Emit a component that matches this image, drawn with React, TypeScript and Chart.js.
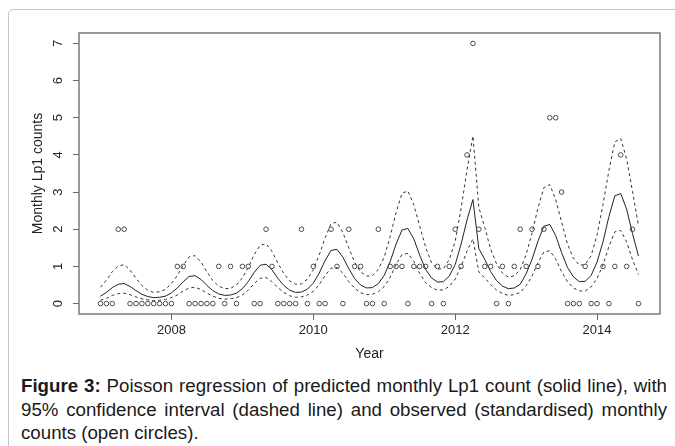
import React, { useEffect, useRef } from "react";
import { Chart, registerables } from "chart.js";

Chart.register(...registerables);

// Monthly series, Jan 2007 .. Aug 2014
const startYear = 2007;

const observed = [
  0, 0, 0, 2, 2, 0, 0, 0, 0, 0, 0, 0,
  0, 1, 1, 0, 0, 0, 0, 0, 1, 0, 1, 0,
  1, 1, 0, 0, 2, 1, 0, 0, 0, 0, 2, 0,
  1, 0, 0, 2, 1, 0, 2, 1, 1, 0, 0, 2,
  0, 1, 1, 1, 0, 1, 1, 1, 0, 1, 0, 1,
  2, 1, 4, 7, 2, 1, 1, 0, 1, 0, 1, 2,
  1, 2, 1, 2, 5, 5, 3, 0, 0, 0, 1, 0,
  0, 1, 0, 1, 4, 1, 2, 0,
];

const fitted = [
  0.20, 0.30, 0.43, 0.52, 0.54, 0.46, 0.35, 0.25, 0.19, 0.16, 0.17, 0.20,
  0.29, 0.42, 0.59, 0.73, 0.75, 0.65, 0.49, 0.35, 0.26, 0.22, 0.23, 0.28,
  0.40, 0.59, 0.84, 1.03, 1.06, 0.91, 0.68, 0.49, 0.36, 0.30, 0.31, 0.39,
  0.55, 0.82, 1.16, 1.43, 1.46, 1.25, 0.94, 0.67, 0.50, 0.42, 0.43, 0.54,
  0.76, 1.13, 1.60, 1.98, 2.02, 1.74, 1.30, 0.92, 0.69, 0.58, 0.59, 0.74,
  1.05, 1.60, 2.25, 2.80, 1.48, 1.19, 0.86, 0.62, 0.47, 0.40, 0.42, 0.52,
  0.80, 1.19, 1.68, 2.08, 2.13, 1.83, 1.37, 0.97, 0.72, 0.59, 0.60, 0.76,
  1.12, 1.66, 2.34, 2.90, 2.96, 2.54, 1.88, 1.28,
];

const upper95 = [
  0.44, 0.63, 0.86, 1.01, 1.05, 0.90, 0.68, 0.49, 0.36, 0.30, 0.32, 0.38,
  0.54, 0.76, 1.03, 1.26, 1.29, 1.12, 0.86, 0.62, 0.47, 0.40, 0.41, 0.50,
  0.69, 0.97, 1.32, 1.57, 1.61, 1.41, 1.09, 0.81, 0.61, 0.52, 0.53, 0.66,
  0.91, 1.31, 1.77, 2.15, 2.19, 1.91, 1.50, 1.11, 0.85, 0.74, 0.75, 0.92,
  1.25, 1.81, 2.45, 2.97, 3.03, 2.66, 2.08, 1.52, 1.10, 0.93, 0.94, 1.18,
  1.68, 2.56, 3.60, 4.51, 2.59, 2.05, 1.46, 1.07, 0.82, 0.71, 0.75, 0.91,
  1.32, 1.90, 2.57, 3.12, 3.20, 2.80, 2.19, 1.60, 1.22, 1.03, 1.05, 1.29,
  1.85, 2.66, 3.58, 4.35, 4.44, 3.89, 3.01, 2.10,
];

const lower95 = [
  0.09, 0.14, 0.22, 0.27, 0.28, 0.24, 0.18, 0.13, 0.10, 0.08, 0.09, 0.11,
  0.16, 0.23, 0.34, 0.42, 0.44, 0.38, 0.28, 0.20, 0.14, 0.12, 0.13, 0.16,
  0.23, 0.36, 0.54, 0.68, 0.70, 0.59, 0.43, 0.30, 0.21, 0.17, 0.18, 0.23,
  0.33, 0.51, 0.76, 0.95, 0.97, 0.82, 0.59, 0.41, 0.29, 0.24, 0.25, 0.32,
  0.46, 0.71, 1.05, 1.32, 1.35, 1.14, 0.81, 0.56, 0.43, 0.36, 0.37, 0.46,
  0.66, 1.00, 1.41, 1.74, 0.85, 0.69, 0.51, 0.36, 0.27, 0.22, 0.24, 0.30,
  0.48, 0.74, 1.10, 1.39, 1.42, 1.20, 0.86, 0.59, 0.42, 0.34, 0.34, 0.45,
  0.68, 1.04, 1.53, 1.93, 1.97, 1.66, 1.18, 0.78,
];

const xTickValues = [2008, 2010, 2012, 2014];
const yTickValues = [0, 1, 2, 3, 4, 5, 6, 7];

const FONT = "'Liberation Sans', Arial, Helvetica, sans-serif";

const toPoints = (arr: number[]) =>
  arr.map((v, i) => ({ x: startYear + i / 12, y: v }));

const boxPlugin = {
  id: "rbox",
  beforeDatasetsDraw(chart: any) {
    const { ctx, chartArea } = chart;
    ctx.save();
    ctx.strokeStyle = "#7a7a7a";
    ctx.lineWidth = 1.5;
    ctx.strokeRect(
      chartArea.left,
      chartArea.top,
      chartArea.right - chartArea.left,
      chartArea.bottom - chartArea.top
    );
    ctx.restore();
  },
};

export default function App() {
  const ref = useRef<HTMLCanvasElement | null>(null);

  useEffect(() => {
    if (!ref.current) return;
    const lineBase = {
      pointRadius: 0,
      pointHoverRadius: 0,
      tension: 0,
      fill: false,
      borderWidth: 1,
    };
    const chart = new Chart(ref.current, {
      type: "line",
      data: {
        datasets: [
          {
            label: "Observed",
            data: toPoints(observed),
            showLine: false,
            pointRadius: 2.3,
            pointHoverRadius: 2.3,
            pointStyle: "circle",
            pointBorderColor: "#4a4a4a",
            pointBackgroundColor: "rgba(0,0,0,0)",
            pointBorderWidth: 1,
            borderColor: "#4a4a4a",
            backgroundColor: "rgba(0,0,0,0)",
          },
          {
            label: "Fitted",
            data: toPoints(fitted),
            borderColor: "#222",
            ...lineBase,
          },
          {
            label: "Upper 95%",
            data: toPoints(upper95),
            borderColor: "#333",
            borderDash: [3, 3],
            ...lineBase,
          },
          {
            label: "Lower 95%",
            data: toPoints(lower95),
            borderColor: "#333",
            borderDash: [3, 3],
            ...lineBase,
          },
        ],
      },
      options: {
        animation: false,
        responsive: false,
        maintainAspectRatio: false,
        events: [],
        layout: { padding: { top: 33, right: 15, left: 0, bottom: 0 } },
        plugins: {
          legend: { display: false },
          tooltip: { enabled: false },
        },
        scales: {
          x: {
            type: "linear",
            min: 2006.697,
            max: 2014.887,
            afterBuildTicks: (s: any) => {
              s.ticks = xTickValues.map((v) => ({ value: v }));
            },
            afterFit: (s: any) => {
              s.height = 58;
            },
            grid: {
              display: true,
              drawOnChartArea: false,
              drawTicks: true,
              tickLength: 6,
              color: "#666",
              lineWidth: 1,
            },
            border: { display: false },
            ticks: {
              autoSkip: false,
              maxRotation: 0,
              minRotation: 0,
              padding: 3,
              color: "#222",
              font: { family: FONT, size: 13 },
              callback: (v: any) => String(v),
            },
            title: {
              display: true,
              text: "Year",
              color: "#222",
              font: { family: FONT, size: 14, lineHeight: 1 },
              padding: { top: 0, bottom: 11 },
            },
          },
          y: {
            type: "linear",
            min: -0.28,
            max: 7.28,
            afterBuildTicks: (s: any) => {
              s.ticks = yTickValues.map((v) => ({ value: v }));
            },
            afterFit: (s: any) => {
              s.width = 79;
            },
            grid: {
              display: true,
              drawOnChartArea: false,
              drawTicks: true,
              tickLength: 6,
              color: "#666",
              lineWidth: 1,
            },
            border: { display: false },
            ticks: {
              autoSkip: false,
              minRotation: 90,
              maxRotation: 90,
              crossAlign: "center",
              padding: 11,
              color: "#222",
              font: { family: FONT, size: 13 },
              callback: (v: any) => String(v),
            },
            title: {
              display: true,
              text: "Monthly Lp1 counts",
              color: "#222",
              font: { family: FONT, size: 14, lineHeight: 1 },
              padding: { top: 31, bottom: 0 },
            },
          },
        },
      } as any,
      plugins: [boxPlugin],
    });
    return () => chart.destroy();
  }, []);

  return (
    <div
      style={{
        position: "fixed",
        left: 0,
        top: 0,
        width: 675,
        height: 446,
        overflow: "hidden",
        background: "#fff",
      }}
    >
      <div
        style={{
          position: "absolute",
          left: 8,
          top: 9,
          width: 700,
          height: 460,
          border: "1.5px solid #c8c8c8",
          borderTopLeftRadius: 5,
          boxSizing: "border-box",
        }}
      />
      <canvas
        ref={ref}
        width={675}
        height={372}
        style={{ position: "absolute", left: 0, top: 0, width: 675, height: 372 }}
      />
      <div
        style={{
          position: "absolute",
          left: 21,
          top: 374,
          width: 646,
          fontFamily: FONT,
          fontSize: 18.7,
          lineHeight: "23.5px",
          textAlign: "justify",
          color: "#1a1a1a",
        }}
      >
        <b>Figure 3:</b> Poisson regression of predicted monthly Lp1 count (solid
        line), with 95% confidence interval (dashed line) and observed
        (standardised) monthly counts (open circles).
      </div>
    </div>
  );
}
